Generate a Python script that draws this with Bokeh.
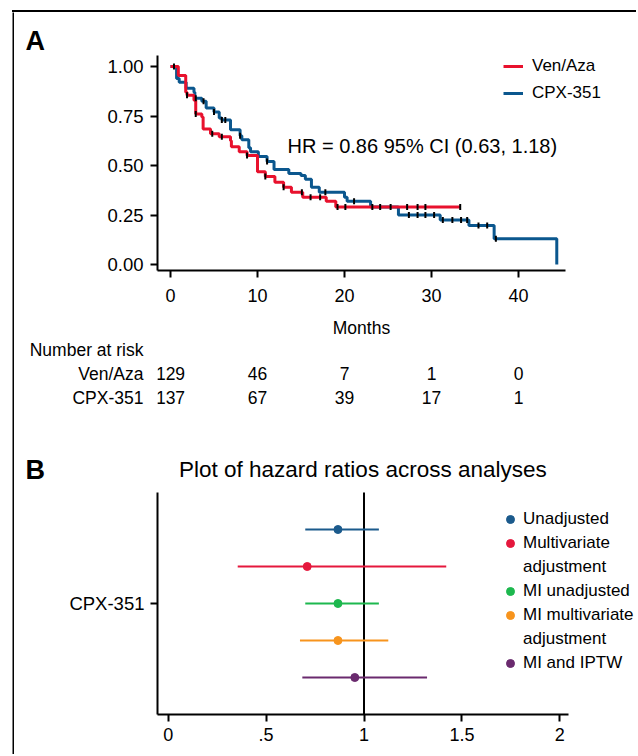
import numpy as np
from bokeh.plotting import figure
from bokeh.models import (Range1d, FactorRange, FixedTicker, NumeralTickFormatter,
                          Legend, LegendItem, Label, ColumnDataSource, Spacer, Div)
from bokeh.layouts import column, row
from bokeh.embed import file_html
from bokeh.resources import INLINE
from bokeh.core.properties import value

FONT = "Liberation Sans"
INK = "black"

# ---------------- data: panel A (Kaplan-Meier) ----------------
ven_t = [0, 0.9, 1.75, 1.9, 2.7, 2.9, 3.6, 3.75, 4.6, 5.6, 6.9, 7.0, 7.9, 8.8,
         10.0, 10.9, 12.0, 13.0, 13.9, 15.2, 17.9, 19.0, 33.3]
ven_s = [1.0, 0.955, 0.87, 0.855, 0.83, 0.76, 0.745, 0.685, 0.66, 0.645, 0.625,
         0.595, 0.57, 0.55, 0.468, 0.445, 0.415, 0.39, 0.365, 0.34, 0.32, 0.29, 0.29]
ven_cens = [1.9, 2.9, 4.8, 5.9, 8.8, 10.9, 13.0, 15.1, 16.1, 17.2, 19.2, 20.1,
            27.2, 28.4, 29.3, 33.3]

cpx_t = [0, 0.7, 1.0, 1.8, 2.7, 2.8, 3.6, 4.1, 5.0, 5.6, 5.9, 6.9, 8.0, 8.2, 9.0,
         9.2, 10.1, 11.1, 11.9, 13.6, 15.0, 15.5, 16.2, 17.1, 20.0, 20.3, 23.0,
         26.2, 31.0, 34.3, 37.2, 44.4]
cpx_s = [1.0, 0.94, 0.92, 0.89, 0.87, 0.84, 0.825, 0.79, 0.77, 0.74, 0.73, 0.68,
         0.65, 0.63, 0.59, 0.57, 0.545, 0.52, 0.48, 0.46, 0.45, 0.43, 0.39, 0.365,
         0.34, 0.32, 0.29, 0.25, 0.225, 0.197, 0.13, 0.0]
cpx_cens = [0.4, 2.9, 3.8, 5.0, 5.9, 6.3, 8.0, 11.1, 17.8, 21.1, 23.2, 24.1, 25.3,
            27.4, 28.4, 29.3, 30.3, 31.3, 32.4, 33.4, 34.1, 35.4, 36.4, 37.4]

x_ticks = [0, 10, 20, 30, 40]
y_ticks = [0, 0.25, 0.5, 0.75, 1.0]
x_label = "Months"
hr_text = "HR = 0.86 95% CI (0.63, 1.18)"

risk_times = [0, 10, 20, 30, 40]
risk_ven = [129, 46, 7, 1, 0]
risk_cpx = [137, 67, 39, 17, 1]

# ---------------- data: panel B (forest) ----------------
b_title = "Plot of hazard ratios across analyses"
analyses = ["Unadjusted", "Multivariate adjustment", "MI unadjusted",
            "MI multivariate adjustment", "MI and IPTW"]
legend_lines = [["Unadjusted"], ["Multivariate", "adjustment"], ["MI unadjusted"],
                ["MI multivariate", "adjustment"], ["MI and IPTW"]]
hr = [0.867, 0.71, 0.867, 0.867, 0.953]
hr_lo = [0.70, 0.355, 0.70, 0.673, 0.685]
hr_hi = [1.076, 1.42, 1.076, 1.124, 1.322]
ref_hr = 1
b_ticks = [0, 0.5, 1, 1.5, 2]
b_tick_labels = ["0", ".5", "1", "1.5", "2"]

RED = "#E8112D"
BLUE = "#0B578E"
b_colors = ["#1B5A8C", "#E5183D", "#1DB84E", "#F7941D", "#6A2A6E"]

W = 622
BL = 143   # left border of all aligned frames


def style_axis(ax, size):
    ax.axis_line_width = 2
    ax.axis_line_color = INK
    ax.major_tick_line_width = 2
    ax.major_tick_line_color = INK
    ax.major_tick_out = 7
    ax.major_tick_in = 0
    ax.minor_tick_line_color = None
    ax.major_label_text_font = FONT
    ax.major_label_text_font_size = size
    ax.major_label_text_color = INK


def step_at(ts, ss, t):
    idx = np.searchsorted(np.array(ts), np.array(t), side="right") - 1
    return list(np.array(ss)[idx])


def bar(w, h):
    b = figure(width=w, height=h, output_backend="svg", toolbar_location=None,
               min_border=0, x_range=Range1d(0, 1), y_range=Range1d(0, 1))
    b.axis.visible = False
    b.grid.visible = False
    b.outline_line_color = None
    b.background_fill_color = INK
    b.border_fill_color = INK
    return b


def panel_letter(p, txt, standoff):
    p.title.text = txt
    p.title.align = "left"
    p.title.offset = -132
    p.title.standoff = standoff
    p.title.text_font = FONT
    p.title.text_font_style = "bold"
    p.title.text_font_size = "27px"
    p.title.text_color = INK


# ---------------- Panel A ----------------
xA0, xA1 = -1.494, 45.40
xrA = Range1d(xA0, 53.563)
pA = figure(width=W, height=301, x_range=xrA,
            y_range=Range1d(-0.0303, 1.0556), output_backend="svg",
            toolbar_location=None, min_border_left=BL, min_border_right=0,
            min_border_top=43, min_border_bottom=43)
pA.outline_line_color = None
pA.xgrid.visible = False
pA.ygrid.visible = False
panel_letter(pA, "A", 0)
pA.xaxis.ticker = FixedTicker(ticks=x_ticks)
pA.xaxis.bounds = (xA0, xA1)
pA.yaxis.ticker = FixedTicker(ticks=y_ticks)
pA.yaxis.formatter = NumeralTickFormatter(format="0.00")
style_axis(pA.xaxis[0], "18px")
style_axis(pA.yaxis[0], "18.5px")
pA.xaxis.major_label_standoff = 11
pA.yaxis.major_label_standoff = 7

r_cpx = pA.step(cpx_t, cpx_s, mode="after", line_color=BLUE, line_width=3)
r_ven = pA.step(ven_t, ven_s, mode="after", line_color=RED, line_width=3)
pA.scatter(cpx_cens, step_at(cpx_t, cpx_s, cpx_cens), marker="dash", angle=np.pi / 2,
           size=6, line_color=INK, line_width=2)
pA.scatter(ven_cens, step_at(ven_t, ven_s, ven_cens), marker="dash", angle=np.pi / 2,
           size=6, line_color=INK, line_width=2)

legA = Legend(items=[LegendItem(label="Ven/Aza", renderers=[r_ven]),
                     LegendItem(label="CPX-351", renderers=[r_cpx])],
              location=(346, 167), glyph_width=20, glyph_height=20, label_height=20,
              spacing=7, padding=0, margin=0, border_line_color=None,
              background_fill_alpha=0, label_text_font=FONT, label_text_color=INK,
              label_text_font_size="17px", label_standoff=9)
pA.add_layout(legA)
pA.add_layout(Label(x=13.45, y=0.596, text=hr_text, text_baseline="middle",
                    text_font=FONT, text_font_size="20px", text_color=INK))

# ---------------- Axis title + number at risk ----------------
risk_rows = ["CPX-351", "Ven/Aza", "Number at risk", " "]
pR = figure(width=W, height=96, x_range=xrA,
            y_range=FactorRange(*risk_rows), output_backend="svg",
            toolbar_location=None, min_border_left=BL, min_border_right=0,
            min_border_top=0, min_border_bottom=0)
pR.outline_line_color = None
pR.xgrid.visible = False
pR.ygrid.visible = False
pR.xaxis.visible = False
pR.yaxis.axis_line_color = None
pR.yaxis.major_tick_line_color = None
pR.yaxis.minor_tick_line_color = None
pR.yaxis.major_label_standoff = 8
pR.yaxis.major_label_text_font = FONT
pR.yaxis.major_label_text_font_size = "17.5px"
pR.yaxis.major_label_text_color = INK
pR.text(x=[(xA0 + xA1) / 2], y=[" "], text=[x_label], text_align="center",
        text_baseline="middle", text_font=value(FONT), text_font_size="17.5px",
        text_color=INK, y_offset=2)
risk_src = ColumnDataSource(dict(
    x=risk_times + risk_times,
    y=["Ven/Aza"] * len(risk_ven) + ["CPX-351"] * len(risk_cpx),
    t=[str(v) for v in risk_ven + risk_cpx]))
pR.text(x="x", y="y", text="t", source=risk_src, text_align="center",
        text_baseline="middle", text_font=value(FONT), text_font_size="17.5px",
        text_color=INK)

# ---------------- Panel B ----------------
n = len(analyses)
xB0, xB1 = -0.05465, 2.043
pB = figure(width=W, height=345, x_range=Range1d(xB0, 2.3917),
            y_range=Range1d(0, n + 2), output_backend="svg", toolbar_location=None,
            min_border_left=BL, min_border_right=0, min_border_top=46,
            min_border_bottom=40)
pB.outline_line_color = None
pB.xgrid.visible = False
pB.ygrid.visible = False
panel_letter(pB, "B", -59)
pB.xaxis.ticker = FixedTicker(ticks=b_ticks)
pB.xaxis.bounds = (xB0, xB1)
pB.xaxis.major_label_overrides = {t: l for t, l in zip(b_ticks, b_tick_labels)}
pB.yaxis.ticker = FixedTicker(ticks=[(n + 1) / 2])
pB.yaxis.bounds = (0, n + 1)
pB.yaxis.major_label_overrides = {(n + 1) // 2: "CPX-351"}
style_axis(pB.xaxis[0], "18px")
style_axis(pB.yaxis[0], "18.5px")
pB.xaxis.major_label_standoff = 6
pB.yaxis.major_label_standoff = 6
pB.segment(x0=[ref_hr], y0=[0], x1=[ref_hr], y1=[n + 1], line_color=INK,
           line_width=2)
pB.add_layout(Label(x=(xB0 + xB1) / 2, y=n + 1.62, text=b_title, text_align="center",
                    text_baseline="middle", text_font=FONT, text_font_size="22.5px",
                    text_color=INK))

items = []
blank = pB.scatter(x=[], y=[], size=1, fill_alpha=0, line_alpha=0)
for i, name in enumerate(analyses):
    yy = n - i
    pB.segment(x0=[hr_lo[i]], y0=[yy], x1=[hr_hi[i]], y1=[yy],
               line_color=b_colors[i], line_width=2)
    r = pB.scatter(x=[hr[i]], y=[yy], size=8, fill_color=b_colors[i],
                   line_color=b_colors[i])
    lines = legend_lines[i]
    items.append(LegendItem(label=lines[0], renderers=[r]))
    for extra in lines[1:]:
        items.append(LegendItem(label=extra, renderers=[blank]))

legB = Legend(items=items, location=(343, 41), glyph_width=20, glyph_height=20,
              label_height=20, spacing=4, padding=0, margin=0,
              border_line_color=None, background_fill_alpha=0,
              label_text_font=FONT, label_text_color=INK,
              label_text_font_size="17px", label_standoff=3)
pB.add_layout(legB)

H = 301 + 96 + 345
top_line = Div(text="", width=624, height=2, margin=0,
               styles={"background-color": INK})
layout = column(Spacer(width=636, height=10),
                row(Spacer(width=12, height=2), top_line, spacing=0),
                row(Spacer(width=12, height=H), bar(2, H),
                    column(pA, pR, pB, spacing=0), spacing=0),
                spacing=0)

open("out.html", "w").write(file_html(layout, INLINE))
